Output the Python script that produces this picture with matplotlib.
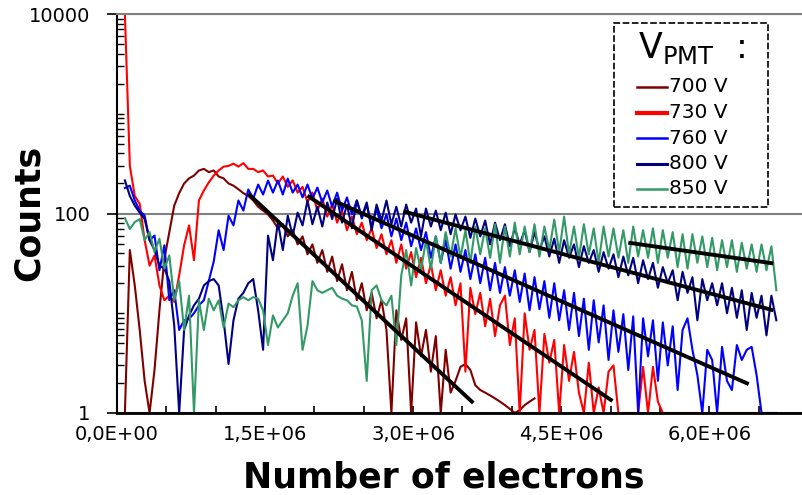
import numpy as np
import matplotlib
matplotlib.use('Agg')
import matplotlib.pyplot as plt
from matplotlib.ticker import FixedLocator, FuncFormatter, MultipleLocator, LogLocator, NullFormatter
from matplotlib.patches import Rectangle
from matplotlib.lines import Line2D

# histogram bins (number of electrons): first bin and bin width
bin_start = 0.08e6
bin_width = 0.05e6

# counts, one value per bin
counts_700 = [1, 43, 19, 6.8, 2.1, 1, 2.7, 10.7, 35, 65,
              120, 160, 200, 225, 240, 270, 280, 260, 270, 235,
              225, 200, 190, 175, 160, 150, 135, 117, 107, 98,
              85, 71, 78, 59, 68, 49, 59, 39, 49, 32,
              43, 26, 37, 21, 31, 17, 26, 13.5, 20, 10.7,
              16, 8.9, 13.5, 6.8, 1, 10.7, 5.4, 8.9, 1, 8.1,
              3.7, 6.8, 2.6, 5.9, 1, 4.3, 1.6, 2.1, 2.9, 3.1,
              2.7, 1.9, 1.7, 1.6, 1.5, 1.4, 1.3, 1.2, 1.1, 1,
              1.07, 1.2, 1.3, 1.4]

counts_730 = [10000, 300, 150, 125, 54, 30, 38, 19, 13.5, 15,
              13, 24, 48, 76, 34, 135, 170, 205, 240, 270,
              295, 300, 316, 295, 320, 280, 280, 260, 270, 235,
              240, 200, 235, 185, 215, 162, 185, 129, 162, 107,
              141, 93, 123, 81, 107, 68, 93, 62, 81, 54,
              71, 45, 62, 39, 54, 32, 49, 28, 41, 23,
              36, 20, 31, 17, 27, 15, 23, 12, 20, 2.6,
              18, 9.8, 16, 7.4, 14, 5.9, 12, 15, 4.8, 8.9,
              1, 10, 4.3, 6.8, 1, 6.2, 3.2, 5.4, 1, 4.8,
              2.1, 4.1, 1.6, 1, 3.2, 1, 1.8, 1, 2.6, 3,
              1, 1, 1, 1, 1, 2.9, 1, 2.9, 1.3, 1,
              1, 1, 1, 1, 1, 1, 1, 1, 1, 1,
              1, 1, 1, 1, 1, 1, 1, 1, 1, 1,
              1, 1, 1]

counts_760 = [180, 190, 135, 107, 95, 54, 60, 27, 48, 13.5,
              17, 6.8, 8.5, 8.8, 10, 12, 13.5, 21, 33, 68,
              43, 95, 76, 135, 107, 174, 141, 195, 155, 214,
              162, 214, 155, 224, 162, 195, 145, 195, 141, 182,
              129, 170, 117, 162, 107, 145, 98, 135, 89, 123,
              74, 112, 71, 98, 59, 89, 54, 81, 47, 71,
              43, 65, 36, 59, 32, 54, 28, 49, 26, 43,
              22, 39, 20, 36, 17, 32, 16, 29, 15, 27,
              13, 25, 10.7, 23, 11, 21, 9, 20, 8.5, 17,
              6.8, 16, 5.9, 14, 4.3, 13.5, 5.1, 12, 3.4, 10.7,
              4.1, 9.8, 2.7, 9.3, 1, 8.9, 3.7, 8.5, 2.1, 8.1,
              3, 7.4, 1.7, 6.8, 8.9, 4.3, 2.4, 1, 4.3, 3.4,
              1, 4.6, 2.1, 1.7, 4.8, 3.4, 4.3, 4.6, 2.4, 1,
              1, 1, 1]

counts_800 = [215, 150, 120, 102, 88, 54, 43, 30, 28, 21,
              7.5, 1, 6.8, 9.5, 12, 14, 19, 21, 22, 19,
              8.5, 3.1, 8.5, 14, 16, 20, 22, 10.7, 4.3, 60,
              34, 82, 43, 95, 60, 102, 76, 135, 78, 117,
              74, 129, 88, 141, 81, 123, 71, 135, 93, 129,
              68, 123, 85, 135, 78, 117, 74, 123, 81, 112,
              59, 112, 74, 107, 68, 102, 62, 98, 68, 93,
              57, 89, 59, 85, 49, 81, 54, 78, 47, 71,
              49, 68, 41, 65, 43, 59, 37, 56, 32, 54,
              36, 49, 29, 47, 32, 43, 26, 41, 28, 39,
              23, 37, 24, 36, 20, 34, 22, 32, 18, 29,
              20, 27, 13.5, 26, 16, 23, 8.5, 22, 13.5, 20,
              12, 20, 10, 18, 9, 17, 6.8, 16, 9, 15,
              6, 15, 8.5]

counts_850 = [90, 70, 82, 88, 54, 65, 41, 56, 28, 38,
              13.5, 21, 6.8, 15, 1, 13.5, 6.8, 14, 10.7, 13.5,
              7.2, 12.5, 11.5, 13.5, 14.5, 13.5, 14.5, 14, 10.7, 4.8,
              9.5, 7.2, 8.5, 10, 15, 20, 4.3, 7.5, 21, 17,
              16, 17, 18, 15, 14, 13.5, 12, 11.7, 8.5, 2.1,
              17, 19, 13.5, 12, 15, 4.8, 24, 43, 19, 45,
              27, 54, 28, 59, 32, 65, 37, 71, 36, 68,
              32, 74, 39, 71, 36, 78, 32, 74, 37, 81,
              39, 74, 41, 78, 37, 74, 43, 87, 41, 93,
              39, 74, 36, 78, 39, 71, 32, 74, 37, 71,
              36, 68, 32, 74, 37, 68, 36, 71, 32, 68,
              36, 65, 29, 62, 28, 62, 32, 59, 29, 57,
              27, 54, 29, 54, 26, 51, 28, 49, 26, 49,
              27, 47, 17]

# exponential fits: end points (electrons, counts)
fit_700_x, fit_700_y = [1.33e6, 3.61e6], [158, 1.26]
fit_730_x, fit_730_y = [1.93e6, 5.02e6], [151, 1.32]
fit_760_x, fit_760_y = [2.19e6, 6.40e6], [135, 1.95]
fit_800_x, fit_800_y = [2.90e6, 6.65e6], [105, 10.7]
fit_850_x, fit_850_y = [5.18e6, 6.65e6], [51, 31.6]

series = [('700 V', counts_700, '#800000', 1.8),
          ('730 V', counts_730, '#FF0000', 3.0),
          ('760 V', counts_760, '#0000FF', 1.8),
          ('800 V', counts_800, '#000080', 2.2),
          ('850 V', counts_850, '#339966', 1.8)]
fits = [(fit_700_x, fit_700_y), (fit_730_x, fit_730_y), (fit_760_x, fit_760_y),
        (fit_800_x, fit_800_y), (fit_850_x, fit_850_y)]

fig = plt.figure(figsize=(8.02, 4.95), dpi=100)
ax = fig.add_axes([117/802, 82/495, 685/802, 399/495])

for label, c, col, lw in series:
    x = bin_start + bin_width*np.arange(len(c))
    ax.plot(x, c, color=col, lw=1.5, zorder=2)
for fx, fy in fits:
    ax.plot(fx, fy, color='black', lw=2.8, solid_capstyle='butt', zorder=3)

ax.set_yscale('log')
ax.set_ylim(1, 10000)
ax.set_xlim(0, 6.94e6)

ax.yaxis.set_major_locator(FixedLocator([1, 100, 10000]))
ax.yaxis.set_minor_locator(LogLocator(base=10, subs=np.arange(1, 10), numticks=20))
ax.yaxis.set_minor_formatter(NullFormatter())
ax.yaxis.set_major_formatter(FuncFormatter(lambda v, p: '%d' % v))
ax.xaxis.set_major_locator(MultipleLocator(1.5e6))
ax.xaxis.set_minor_locator(MultipleLocator(0.5e6))
ax.xaxis.set_major_formatter(FuncFormatter(lambda v, p: ('%.1E' % v).replace('.', ',')))

ax.tick_params(axis='x', which='both', direction='in', length=5, width=1.2,
               labelsize=14, pad=9)
ax.tick_params(axis='y', which='major', direction='out', length=7, width=1.2,
               labelsize=14, pad=12)
ax.tick_params(axis='y', which='minor', direction='in', length=5, width=1.0)

ax.grid(axis='y', which='major', color='#808080', lw=1.5, zorder=0)
ax.spines['right'].set_visible(False)
ax.spines['top'].set_color('#808080')
ax.spines['top'].set_linewidth(1.5)
ax.spines['left'].set_linewidth(1.5)
ax.spines['bottom'].set_linewidth(2)

fig.text(444/802, 1-477/495, 'Number of electrons', ha='center', va='center',
         fontsize=25, fontweight='bold')
fig.text(29/802, 1-213/495, 'Counts', ha='center', va='center', rotation=90,
         fontsize=25, fontweight='bold')

# legend box
fig.patches.append(Rectangle((614/802, 1-207/495), 154/802, 184/495,
                             transform=fig.transFigure, facecolor='white',
                             edgecolor='black', lw=1.2, linestyle=(0, (4, 1.5)),
                             zorder=5))
fig.text(638/802, 1-58/495, r'$\mathregular{V_{PMT}}$  :', fontsize=25,
         ha='left', va='baseline', zorder=6)
for i, (label, c, col, lw) in enumerate(series):
    yy = 1 - (87 + 25.5*i)/495
    fig.lines.append(Line2D([637/802, 667/802], [yy, yy], transform=fig.transFigure,
                            color=col, lw=lw, zorder=6))
    fig.text(669/802, yy, label, ha='left', va='center', fontsize=14.5, zorder=6)

fig.savefig('out.png', dpi=100)
